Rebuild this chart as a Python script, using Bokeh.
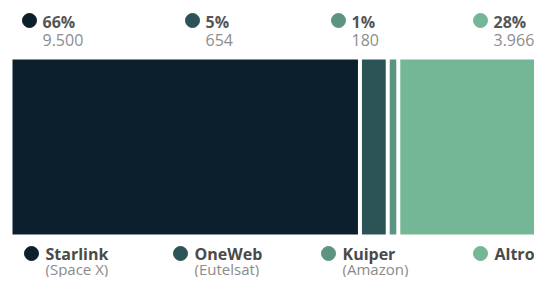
from bokeh.plotting import figure
from bokeh.models import Range1d, ColumnDataSource
from bokeh.core.properties import value
from bokeh.embed import file_html
from bokeh.resources import INLINE

# ---- data ----
names = ["Starlink", "OneWeb", "Kuiper", "Altro"]
owners = ["(Space X)", "(Eutelsat)", "(Amazon)", ""]
counts = [9500, 654, 180, 3966]
count_labels = ["9.500", "654", "180", "3.966"]
colors = ["#0c1f2c", "#2c5356", "#5c9483", "#74b797"]

total = sum(counts)
pct_labels = [f"{round(c / total * 100)}%" for c in counts]

# ---- layout (pixel positions, style only) ----
W, H = 534, 277
px_per_unit = 520.0 / total
gap_units = 4 / px_per_unit
x0_units = -12 / px_per_unit
top_dot_x = [29, 192, 338, 480]
bot_dot_x = [31, 180, 328, 480]
FONT = value("Open Sans")

p = figure(width=W, height=H, output_backend="svg", toolbar_location=None,
           x_range=Range1d(x0_units, x0_units + W / px_per_unit),
           y_range=Range1d(H, 0), min_border=0)
p.extra_x_ranges = {"px": Range1d(0, W)}
p.axis.visible = False
p.grid.visible = False
p.outline_line_color = None
p.background_fill_color = "white"
p.border_fill_color = "white"

# bars
lefts, rights = [], []
acc = 0.0
for c in counts:
    lefts.append(acc)
    rights.append(acc + c)
    acc += c + gap_units
bars = ColumnDataSource(dict(left=lefts, right=rights, color=colors))
p.quad(left="left", right="right", top=59, bottom=234, fill_color="color",
       line_color=None, source=bars)

# top labels
top = ColumnDataSource(dict(x=top_dot_x, tx=[x + 13 for x in top_dot_x],
                            color=colors, pct=pct_labels, cnt=count_labels))
p.scatter(x="x", y=20, size=14, color="color", source=top, x_range_name="px")
p.text(x="tx", y=21, text="pct", source=top, x_range_name="px",
       text_font=FONT, text_font_style="bold", text_font_size="16px",
       text_color="#555555", text_baseline="middle")
p.text(x="tx", y=39, text="cnt", source=top, x_range_name="px",
       text_font=FONT, text_font_size="16px",
       text_color="#8c8c8c", text_baseline="middle")

# bottom legend
bot = ColumnDataSource(dict(x=bot_dot_x, tx=[x + 14 for x in bot_dot_x],
                            color=colors, name=names, owner=owners))
p.scatter(x="x", y=253, size=14, color="color", source=bot, x_range_name="px")
p.text(x="tx", y=253, text="name", source=bot, x_range_name="px",
       text_font=FONT, text_font_style="bold", text_font_size="16px",
       text_color="#4a4a4a", text_baseline="middle")
p.text(x="tx", y=268, text="owner", source=bot, x_range_name="px",
       text_font=FONT, text_font_size="15px",
       text_color="#8a8a8a", text_baseline="middle")

open("out.html", "w").write(file_html(p, INLINE))
